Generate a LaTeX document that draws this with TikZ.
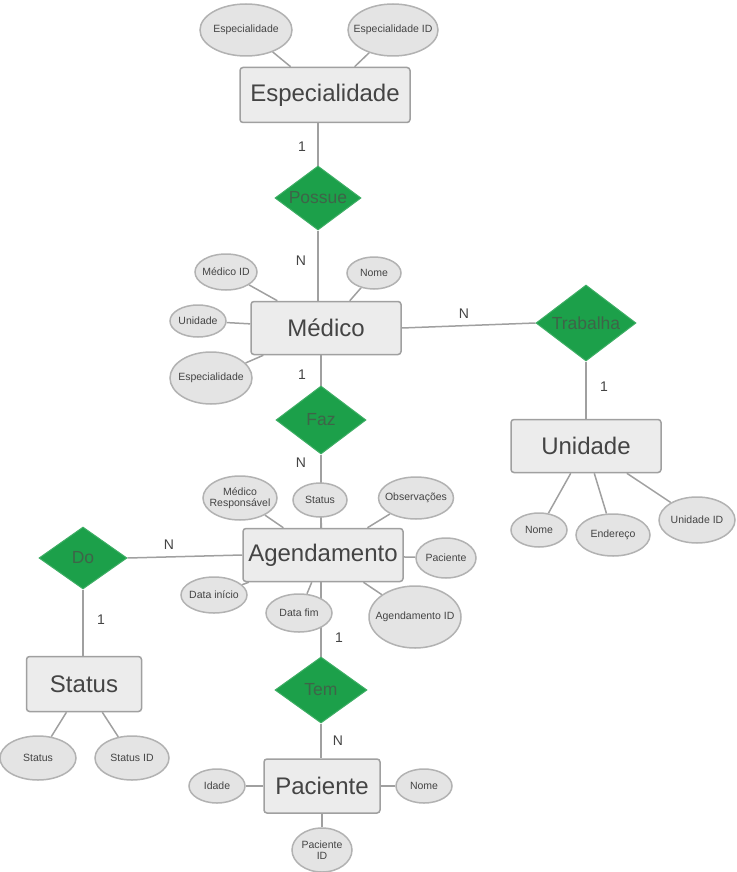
\documentclass[tikz,border=0pt]{standalone}
\usepackage{fontspec}
\setmainfont{Liberation Sans}
\usetikzlibrary{shapes.geometric}
\pgfdeclarelayer{background}
\pgfsetlayers{background,main}
\definecolor{entfill}{RGB}{236,236,236}
\definecolor{entline}{RGB}{160,160,160}
\definecolor{attfill}{RGB}{228,228,228}
\definecolor{attline}{RGB}{178,178,178}
\definecolor{relgreen}{RGB}{28,160,74}
\definecolor{reltext}{RGB}{62,100,72}
\definecolor{linkgray}{RGB}{160,160,160}
\definecolor{txtgray}{RGB}{68,68,68}

\begin{document}
\begin{tikzpicture}[
                x=1pt, y=-1pt,
                entity/.style={rectangle, rounded corners=3pt, fill=entfill, draw=entline, line width=1.5pt, text=txtgray, font=\fontsize{24}{26}\selectfont, inner sep=0pt},
                atttext/.style={text=txtgray, font=\fontsize{10.5}{11.5}\selectfont, align=center, inner sep=0pt},
                attr/.style={ellipse, fill=attfill, draw=attline, line width=1.5pt, inner sep=0pt, label={[atttext]center:{#1}}},
                relation/.style={diamond, shape aspect=1.4, fill=relgreen, draw=relgreen!85!white, line width=1pt, inner sep=0pt, text=reltext, font=\fontsize{17.5}{19}\selectfont},
                card/.style={text=txtgray, font=\fontsize{14}{16}\selectfont},
                link/.style={draw=linkgray, line width=1.5pt}
                ]
                \useasboundingbox (0,0) rectangle (736,872);

                %% Entities
                \node[entity, minimum width=170pt, minimum height=55pt] (especialidade) at (325,95) {Especialidade};
                \node[entity, minimum width=150pt, minimum height=53pt] (medico) at (326,328) {Médico};
                \node[entity, minimum width=150pt, minimum height=53pt] (unidade) at (586,446) {Unidade};
                \node[entity, minimum width=160pt, minimum height=53pt] (agendamento) at (323,555) {Agendamento};
                \node[entity, minimum width=115pt, minimum height=55pt] (status) at (84,684) {Status};
                \node[entity, minimum width=116pt, minimum height=54pt] (paciente) at (322,786) {Paciente};

                %% Relations
                \node[relation, minimum width=86pt, minimum height=64pt] (possue) at (318,198) {Possue};
                \node[relation, minimum width=100pt, minimum height=76pt] (trabalha) at (586,323) {Trabalha};
                \node[relation, minimum width=90pt, minimum height=68pt] (faz) at (321,420) {Faz};
                \node[relation, minimum width=88pt, minimum height=62pt] (do) at (83,558) {Do};
                \node[relation, minimum width=92pt, minimum height=66pt] (tem) at (321,690) {Tem};

                %% Attributes
                \node[attr=Especialidade, minimum width=92pt, minimum height=52pt] (espNome) at (246,30) {};
                \node[attr=Especialidade ID, minimum width=90pt, minimum height=52pt] (espID) at (393,30) {};

                \node[attr=Médico ID, minimum width=62pt, minimum height=36pt] (medID) at (226,272) {};
                \node[attr=Nome, minimum width=54pt, minimum height=32pt] (medNome) at (374,273) {};
                \node[attr=Unidade, minimum width=56pt, minimum height=32pt] (medUnid) at (198,321) {};
                \node[attr=Especialidade, minimum width=82pt, minimum height=52pt] (medEsp) at (211,378) {};

                \node[attr=Nome, minimum width=56pt, minimum height=34pt] (unNome) at (539,530) {};
                \node[attr=Endereço, minimum width=74pt, minimum height=42pt] (unEnd) at (613,535) {};
                \node[attr=Unidade ID, minimum width=76pt, minimum height=46pt] (unID) at (697,520) {};

                \node[attr={Médico\\Responsável}, minimum width=74pt, minimum height=44pt] (agMed) at (240,498) {};
                \node[attr=Status, minimum width=54pt, minimum height=34pt] (agStatus) at (320,500) {};
                \node[attr=Observações, minimum width=75pt, minimum height=42pt] (agObs) at (416,498) {};
                \node[attr=Paciente, minimum width=60pt, minimum height=40pt] (agPac) at (446,558) {};
                \node[attr=Data início, minimum width=66pt, minimum height=36pt] (agIni) at (214,595) {};
                \node[attr=Data fim, minimum width=66pt, minimum height=38pt] (agFim) at (299,613) {};
                \node[attr=Agendamento ID, minimum width=92pt, minimum height=62pt] (agID) at (415,617) {};

                \node[attr=Status, minimum width=76pt, minimum height=44pt] (stNome) at (38,758) {};
                \node[attr=Status ID, minimum width=74pt, minimum height=44pt] (stID) at (132,758) {};

                \node[attr=Idade, minimum width=56pt, minimum height=34pt] (pacIdade) at (217,786) {};
                \node[attr=Nome, minimum width=56pt, minimum height=34pt] (pacNome) at (424,786) {};
                \node[attr={Paciente\\ID}, minimum width=60pt, minimum height=44pt] (pacID) at (322,850) {};

                \begin{pgfonlayer}{background}
                %% Relation links
                \draw[link] (especialidade.south -| possue) -- (possue.north);
                \draw[link] (possue.south) -- (medico.north -| possue);
                \draw[link] (medico.east) -- (trabalha.west);
                \draw[link] (trabalha.south) -- (unidade.north);
                \draw[link] (medico.south -| faz) -- (faz.north);
                \draw[link] (faz.south) -- (agendamento.north -| faz);
                \draw[link] (agendamento.west) -- (do.east);
                \draw[link] (do.south) -- (status.north -| do);
                \draw[link] (agendamento.south -| tem) -- (tem.north);
                \draw[link] (tem.south) -- (paciente.north -| tem);

                %% Attribute links
                \foreach \a/\e in {espNome/especialidade, espID/especialidade,
                                   medID/medico, medNome/medico, medUnid/medico, medEsp/medico,
                                   unNome/unidade, unEnd/unidade, unID/unidade,
                                   agMed/agendamento, agStatus/agendamento, agObs/agendamento, agPac/agendamento,
                                   agIni/agendamento, agFim/agendamento, agID/agendamento,
                                   stNome/status, stID/status,
                                   pacIdade/paciente, pacNome/paciente, pacID/paciente} {
                    \draw[link] (\a) -- (\e);
                }
                \end{pgfonlayer}

                %% Cardinalities
                \node[card] (c1) at (302,147) {1};
                \node[card] (c2) at (301,261) {N};
                \node[card] (c3) at (464,314) {N};
                \node[card] (c4) at (604,387) {1};
                \node[card] (c5) at (302,375) {1};
                \node[card] (c6) at (301,463) {N};
                \node[card] (c7) at (169,545) {N};
                \node[card] (c8) at (101,620) {1};
                \node[card] (c9) at (339,638) {1};
                \node[card] (c10) at (338,741) {N};
\end{tikzpicture}
\end{document}
